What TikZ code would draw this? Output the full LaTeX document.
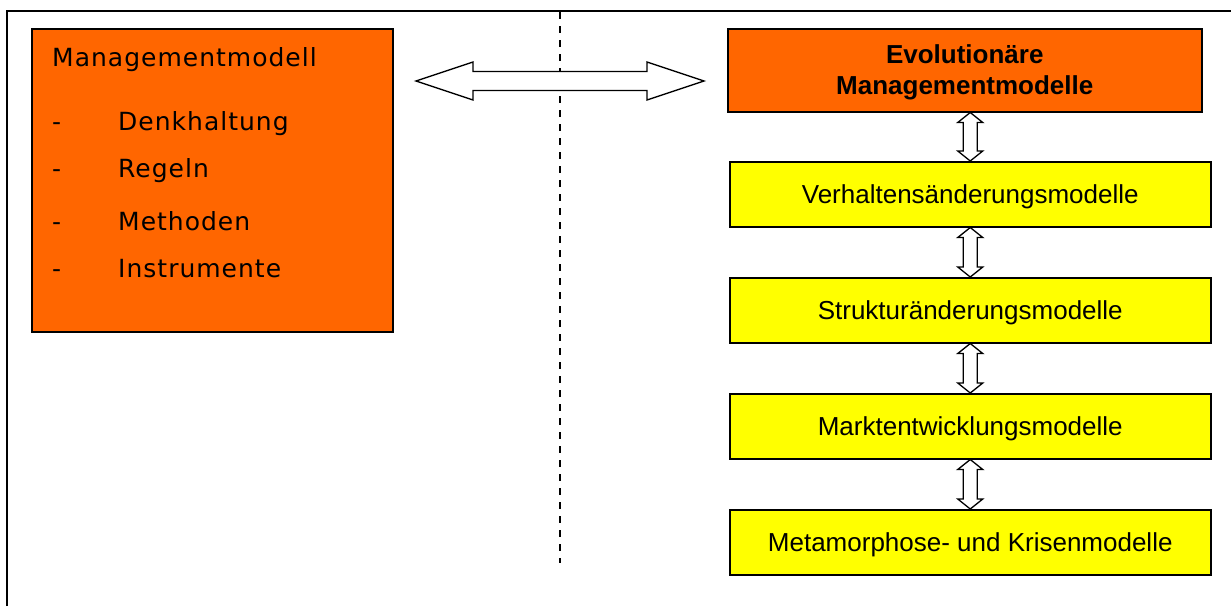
\documentclass[tikz,border=0pt]{standalone}
\usepackage{fontspec}
\setmainfont{Liberation Sans}
\newfontfamily\verd[LetterSpace=4]{DejaVu Sans}
\usetikzlibrary{calc}
\definecolor{mmorange}{HTML}{FF6600}
\definecolor{mmyellow}{HTML}{FFFF00}
\begin{document}
\begin{tikzpicture}[x=1pt,y=-1pt,
  box/.style={draw=black, line width=1.5pt, inner sep=0pt, anchor=north west, align=center},
  orangebox/.style={box, fill=mmorange},
  yellowbox/.style={box, fill=mmyellow, minimum width=481pt, minimum height=65pt,
    text height=19pt, text depth=0pt, font=\fontsize{26}{31}\selectfont},
  hollow/.style={draw=black, fill=white, line width=1.3pt, line join=miter},
  listtext/.style={anchor=base west, inner sep=0pt, font=\verd\fontsize{25}{30}\selectfont},
  divider/.style={line width=1.3pt, dash pattern=on 7pt off 7pt},
  frame/.style={line width=2pt},
]
\useasboundingbox (0,0) rectangle (1231,606);

% outer frame (top and left edges)
\coordinate (frameBL) at (7,606);
\coordinate (frameTL) at (7,11);
\coordinate (frameTR) at (1231,11);
\draw[frame] (frameBL) -- (frameTL) -- (frameTR);

% vertical divider
\coordinate (divTop) at (560,12);
\coordinate (divBot) at (560,563);
\draw[divider] (divTop) -- (divBot);

% left: management model
\node[orangebox, minimum width=361pt, minimum height=303pt] (mm) at (31,28) {};
\node[listtext] (mmTitle) at (52,66) {Managementmodell};
\node[listtext] (d1) at (52,130) {-};
\node[listtext] (t1) at (118,130) {Denkhaltung};
\node[listtext] (d2) at (52,177) {-};
\node[listtext] (t2) at (118,177) {Regeln};
\node[listtext] (d3) at (52,230) {-};
\node[listtext] (t3) at (118,230) {Methoden};
\node[listtext] (d4) at (52,277) {-};
\node[listtext] (t4) at (118,277) {Instrumente};

% right: evolutionary models
\node[orangebox, minimum width=474pt, minimum height=83pt,
      font=\bfseries\fontsize{26}{31}\selectfont] (evo) at (727,28)
      {\rule{0pt}{22pt}Evolutionäre\\Managementmodelle};
\node[yellowbox] (m1) at (729,161) {Verhaltensänderungsmodelle};
\node[yellowbox] (m2) at (729,277) {Strukturänderungsmodelle};
\node[yellowbox] (m3) at (729,393) {Marktentwicklungsmodelle};
\node[yellowbox] (m4) at (729,509) {Metamorphose- und Krisenmodelle};

% hollow vertical double arrows between stacked boxes
\newcommand{\vconn}[2]{%
  \draw[hollow] let \p1=(#1.south), \p2=(#2.north) in
    (\x2,\y1) -- (\x2+12.5pt,\y1-10pt) -- (\x2+7pt,\y1-10pt) -- (\x2+7pt,\y2+10pt)
    -- (\x2+12.5pt,\y2+10pt) -- (\x2,\y2) -- (\x2-12.5pt,\y2+10pt) -- (\x2-7pt,\y2+10pt)
    -- (\x2-7pt,\y1-10pt) -- (\x2-12.5pt,\y1-10pt) -- cycle;}
\vconn{evo}{m1}
\vconn{m1}{m2}
\vconn{m2}{m3}
\vconn{m3}{m4}

% hollow horizontal double arrow between the two models
\coordinate (bigL) at (416,81);
\coordinate (bigR) at (704,81);
\draw[hollow] let \p1=(bigL), \p2=(bigR) in
  (\x1,\y1) -- (\x1+57pt,\y1+19pt) -- (\x1+57pt,\y1+9.5pt) -- (\x2-57pt,\y1+9.5pt)
  -- (\x2-57pt,\y1+19pt) -- (\x2,\y2) -- (\x2-57pt,\y1-19pt) -- (\x2-57pt,\y1-9.5pt)
  -- (\x1+57pt,\y1-9.5pt) -- (\x1+57pt,\y1-19pt) -- cycle;
\end{tikzpicture}
\end{document}
